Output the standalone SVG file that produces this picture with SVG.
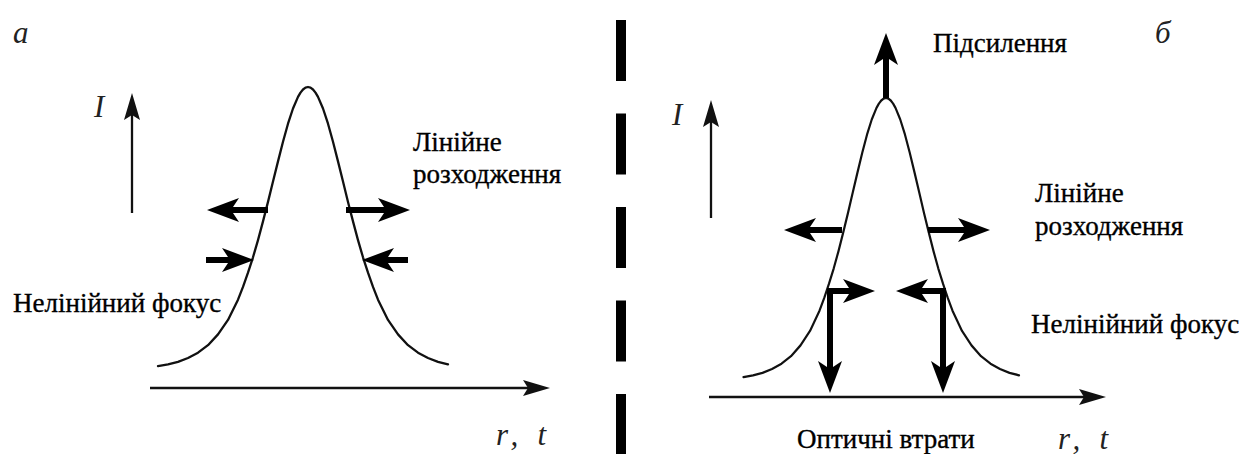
<svg xmlns="http://www.w3.org/2000/svg" xmlns:xlink="http://www.w3.org/1999/xlink" width="1239" height="454" viewBox="0 0 1239 454">
  <style>
    .lbl { font-family: 'Liberation Serif', serif; font-size: 27px; fill: #000; stroke: #000; stroke-width: 0.35; }
    .it { font-family: 'Liberation Serif', serif; font-style: italic; font-size: 31px; fill: #222; }
    .curve { fill: none; stroke: #111; stroke-width: 2.3; stroke-linejoin: round; stroke-linecap: round; }
    .axis { fill: none; stroke: #111; stroke-width: 2.3; marker-end: url(#thin); }
    .force { fill: none; stroke: #000; stroke-width: 6; marker-end: url(#thick); }
  </style>
  <defs>
    <marker id="thick" markerUnits="userSpaceOnUse" markerWidth="40" markerHeight="30" refX="0" refY="0" orient="auto" overflow="visible">
      <path d="M24,0 L-8,-12 L0,0 L-8,12 Z" fill="#000"/>
    </marker>
    <marker id="thin" markerUnits="userSpaceOnUse" markerWidth="30" markerHeight="20" refX="0" refY="0" orient="auto" overflow="visible">
      <path d="M22,0 L-5,-8 L0,0 L-5,8 Z" fill="#111"/>
    </marker>
    <path id="pulse" d="M-150,279.1 L-140,277.3 L-130,274.8 L-120,271.0 L-110,265.7 L-100,258.2 L-90,247.4 L-80,232.9 L-70,212.7 L-65,199.9 L-60,185.7 L-55,170.3 L-50,153.1 L-45,134.4 L-40,114.9 L-35,94.5 L-30,74.4 L-25,54.8 L-20,36.7 L-15,21.5 L-10,9.9 L-7.5,5.6 L-5,2.5 L-2.5,0.6 L0,0 L2.5,0.6 L5,2.5 L7.5,5.6 L10,9.9 L15,21.5 L20,36.7 L25,54.8 L30,74.4 L35,94.5 L40,114.9 L45,134.4 L50,153.1 L55,170.3 L60,185.7 L65,199.9 L70,212.7 L80,232.9 L90,247.4 L100,258.2 L110,265.7 L120,271.0 L130,274.8 L140,277.3"/>
  </defs>
  <rect width="1239" height="454" fill="#fff"/>

  <!-- divider -->
  <g id="divider">
    <line x1="621" y1="20" x2="621" y2="454" stroke="#000" stroke-width="10" stroke-dasharray="61 32.5"/>
  </g>

  <!-- panel a -->
  <g id="panel-a">
    <text class="it" x="13" y="43">а</text>
    <text class="it" x="94" y="117">I</text>
    <use href="#pulse" xlink:href="#pulse" class="curve" transform="translate(308,87)"/>
    <text class="lbl" x="413" y="151">Лінійне</text>
    <text class="lbl" x="413" y="183">розходження</text>
    <text class="lbl" x="13" y="312">Нелінійний фокус</text>
    <text class="it" x="496" y="445" textLength="50" lengthAdjust="spacing">r, t</text>
  </g>

  <!-- panel b -->
  <g id="panel-b">
    <text class="it" x="1155" y="43">б</text>
    <text class="it" x="672" y="125">I</text>
    <use href="#pulse" xlink:href="#pulse" class="curve" vector-effect="non-scaling-stroke" transform="translate(886,98) scale(0.95,1)"/>
    <text class="lbl" x="933" y="52">Підсилення</text>
    <text class="lbl" x="1035" y="202">Лінійне</text>
    <text class="lbl" x="1035" y="235">розходження</text>
    <text class="lbl" x="1031" y="333">Нелінійний фокус</text>
    <text class="lbl" x="797" y="448">Оптичні втрати</text>
    <text class="it" x="1058" y="449" textLength="50" lengthAdjust="spacing">r, t</text>
  </g>

  <!-- connectors -->
  <g id="connectors">
    <line class="axis" x1="132" y1="213" x2="132" y2="115"/>
    <line class="axis" x1="150" y1="388" x2="528" y2="388"/>
    <line class="force" x1="268" y1="210" x2="231" y2="210"/>
    <line class="force" x1="346" y1="210" x2="386" y2="210"/>
    <line class="force" x1="206" y1="260" x2="230" y2="260"/>
    <line class="force" x1="408" y1="260" x2="386" y2="260"/>
    <line class="axis" x1="711" y1="218" x2="711" y2="122"/>
    <line class="axis" x1="709" y1="397" x2="1084" y2="397"/>
    <line class="force" x1="886" y1="98" x2="886" y2="57"/>
    <line class="force" x1="842" y1="230" x2="808" y2="230"/>
    <line class="force" x1="928" y1="230" x2="966" y2="230"/>
    <line class="force" x1="827" y1="291" x2="851" y2="291"/>
    <line class="force" x1="946" y1="291" x2="920" y2="291"/>
    <line class="force" x1="830" y1="288" x2="830" y2="369"/>
    <line class="force" x1="943" y1="288" x2="943" y2="369"/>
  </g>
</svg>
